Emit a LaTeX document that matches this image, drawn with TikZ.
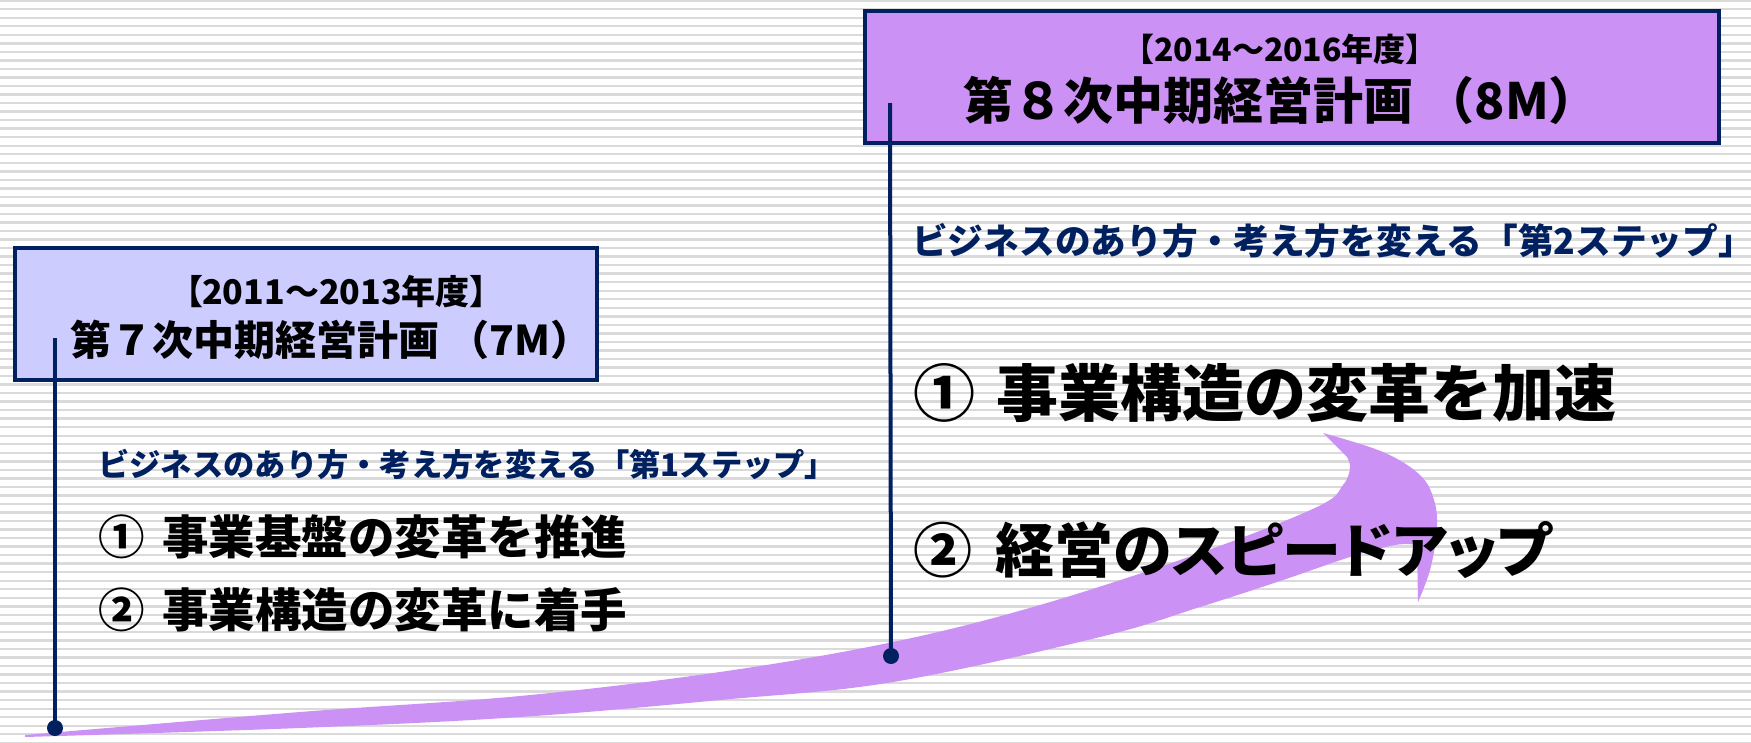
\documentclass[tikz,border=0pt]{standalone}
\usepackage{fontspec}
\newfontfamily\jp{Noto Sans CJK JP}
\newfontfamily\jpp{Noto Sans CJK JP}[RawFeature=+palt]
\definecolor{navy}{RGB}{0,32,96}
\definecolor{lav}{RGB}{204,204,255}
\definecolor{purp}{RGB}{204,145,245}
\definecolor{stripec}{RGB}{218,218,218}
\tikzset{
  stripe/.style={draw=stripec, line width=2.4pt},
  panel/.style={draw=navy, line width=3.2pt, inner sep=0pt},
  stem/.style={draw=navy, line width=4pt},
  dotn/.style={circle, fill=navy, inner sep=0pt, minimum size=16pt},
  txt/.style={inner sep=0pt, text=black},
  lbl/.style={inner sep=0pt, anchor=west},
}
\newcommand{\fs}[1]{\fontsize{#1}{#1}\selectfont}
\begin{document}
\begin{tikzpicture}[x=1pt,y=-1pt]
\useasboundingbox (0,0) rectangle (1751,742);
\fill[white] (0,0) rectangle (1751,742);
\foreach \i in {0,...,87} {
  \draw[stripe] (0,{0.7+8.53*\i}) -- (1751,{0.7+8.53*\i});
}
% swoosh arrow
\fill[purp] (25,735)
  -- plot[smooth,tension=0.6] coordinates {(25,735) (300,712) (520,696) (720,672) (893,642) (1040,605) (1200,553) (1317,507) (1343,485) (1350,468) (1347,457)}
  -- (1323,433)
  -- plot[smooth,tension=0.6] coordinates {(1323,433) (1383,452) (1420,475) (1434,500) (1437,530) (1430,570) (1418,602)}
  -- (1417,545)
  -- plot[smooth,tension=0.6] coordinates {(1417,545) (1395,545) (1350,557) (1283,580) (1200,607) (1100,637) (893,682) (720,700) (520,717) (300,728) (25,737)}
  -- cycle;
% boxes
\node[panel, fill=lav, minimum width=582pt, minimum height=132pt] (box7) at (306,314) {};
\node[panel, fill=purp, minimum width=854pt, minimum height=132pt] (box8) at (1292,77) {};
% box texts
\node[txt, font={\jpp\bfseries\fs{34}}] (y7) at (336,292) {【2011～2013年度】};
\node[txt, font={\jp\bfseries\fs{41}}] (t7) at (331,340) {第７次中期経営計画 （7M）};
\node[txt, font={\jpp\bfseries\fs{32}}] (y8) at (1280,49) {【2014～2016年度】};
\node[txt, font={\jp\bfseries\fs{50}}] (t8) at (1281,100) {第８次中期経営計画 （8M）};
% stems
\coordinate (s7) at (55,338);
\coordinate (s8) at (890,103);
\node[dotn] (d7) at (55,728) {};
\node[dotn] (d8) at (891,656) {};
\draw[stem] (s7) -- (d7.center);
\draw[stem] (s8) -- (d8.center);
% texts
\node[lbl, text=navy, font={\jp\bfseries\fs{31.3}}] (n1) at (98,464) {ビジネスのあり方・考え方を変える「第1ステップ」};
\node[lbl, font={\jp\bfseries\fs{46.5}}] (a1) at (98,537) {①\hspace{0.38em}事業基盤の変革を推進};
\node[lbl, font={\jp\bfseries\fs{46.5}}] (a2) at (98,610) {②\hspace{0.38em}事業構造の変革に着手};
\node[lbl, text=navy, font={\jp\bfseries\fs{35.7}}] (n2) at (912,241) {ビジネスのあり方・考え方を変える「第2ステップ」};
\node[lbl, font={\jp\bfseries\fs{62}}] (b1) at (913,393) {①\hspace{0.35em}事業構造の変革を加速};
\node[lbl, font={\jpp\bfseries\fs{59}}] (b2) at (913,550) {②\hspace{0.4em}経営のスピードアップ};
\end{tikzpicture}
\end{document}
